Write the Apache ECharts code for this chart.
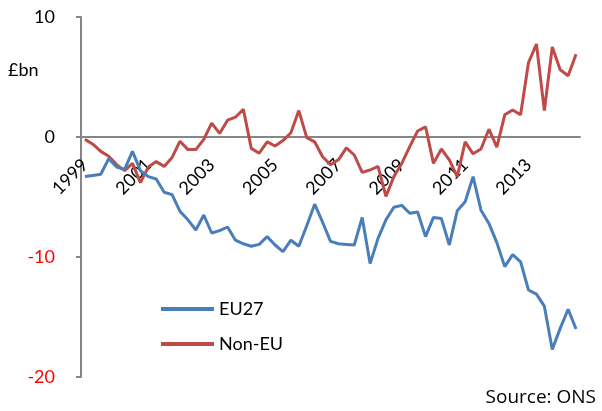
<!DOCTYPE html>
<html>
<head>
<meta charset="utf-8">
<title>EU27 and Non-EU trade balance</title>
<script src="https://cdn.jsdelivr.net/npm/echarts@6/dist/echarts.min.js"></script>
<style>
  html, body { margin: 0; padding: 0; background: #fff; }
  #chart { width: 602px; height: 411px; }
</style>
</head>
<body>
<div id="chart"></div>
<script>
// quarters 1999 Q1 .. 2014 Q3
var quarters = [];
for (var y = 1999; y <= 2014; y++) {
    for (var q = 1; q <= 4; q++) {
        if (y === 2014 && q > 3) break;
        quarters.push(y + ' Q' + q);
    }
}

// £bn
var eu27 = [
    -3.3, -3.2, -3.1, -1.8, -2.5, -2.7, -1.2, -2.8,
    -3.3, -3.5, -4.6, -4.8, -6.2, -6.9, -7.75, -6.5,
    -8.0, -7.8, -7.5, -8.6, -8.9, -9.1, -8.95, -8.3,
    -9.0, -9.55, -8.6, -9.1, -7.4, -5.6, -7.1, -8.7,
    -8.9, -8.95, -9.0, -6.7, -10.55, -8.45, -6.9, -5.85,
    -5.7, -6.35, -6.25, -8.3, -6.7, -6.8, -9.0, -6.15,
    -5.4, -3.3, -6.1, -7.2, -8.8, -10.8, -9.8, -10.4,
    -12.75, -13.1, -14.1, -17.7, -15.95, -14.35, -16.0
];
var nonEu = [
    -0.2, -0.6, -1.2, -1.6, -2.3, -2.8, -2.2, -3.8,
    -2.5, -2.05, -2.45, -1.7, -0.35, -1.05, -1.05, -0.2,
    1.15, 0.3, 1.4, 1.65, 2.3, -0.95, -1.35, -0.4,
    -0.75, -0.3, 0.35, 2.2, -0.05, -0.4, -1.65, -2.3,
    -1.9, -0.9, -1.5, -2.95, -2.75, -2.45, -4.95, -3.3,
    -2.2, -0.8, 0.5, 0.85, -2.2, -1.0, -1.9, -3.3,
    -0.4, -1.4, -1.0, 0.65, -0.85, 1.85, 2.25, 1.85,
    6.2, 7.75, 2.2, 7.5, 5.6, 5.1, 6.9
];

var yMin = -20, yMax = 10;
var axisGrey = '#868686';
var labelFont = 'Lato, "DejaVu Sans", sans-serif';
var gridTop = 17, gridBottom = 34;
var plotH = 411 - gridTop - gridBottom;
// move the category axis up to the zero line
var zeroOffset = -plotH * (0 - yMin) / (yMax - yMin);

var myChart = echarts.init(document.getElementById('chart'));
var option = {
    animation: false,
    backgroundColor: '#fff',
    grid: { left: 81, right: 22, top: gridTop, bottom: gridBottom, containLabel: false, outerBoundsMode: 'none' },
    legend: {
        orient: 'vertical',
        left: 156,
        top: 295,
        icon: 'rect',
        itemWidth: 53,
        itemHeight: 4,
        itemGap: 17,
        textStyle: { fontFamily: labelFont, fontSize: 18, color: '#000', lineHeight: 18 },
        data: ['EU27', 'Non-EU']
    },
    xAxis: {
        type: 'category',
        data: quarters,
        boundaryGap: true,
        position: 'bottom',
        offset: zeroOffset,
        axisLine: { onZero: false, lineStyle: { color: axisGrey, width: 2 } },
        axisTick: { interval: 3, length: 6, lineStyle: { color: axisGrey, width: 2 } },
        axisLabel: {
            interval: 7,
            rotate: 45,
            margin: 25,
            fontFamily: labelFont,
            fontSize: 18,
            color: '#000',
            formatter: function (v) { return v.slice(0, 4); }
        }
    },
    yAxis: {
        type: 'value',
        min: yMin,
        max: yMax,
        interval: 10,
        splitLine: { show: false },
        axisLine: { show: true, lineStyle: { color: axisGrey, width: 2 } },
        axisTick: { show: true, length: 5, lineStyle: { color: axisGrey, width: 2 } },
        axisLabel: {
            margin: 26,
            fontFamily: labelFont,
            fontSize: 18,
            formatter: function (v) { return v < 0 ? '{neg|' + v + '}' : '{pos|' + v + '}'; },
            rich: {
                pos: { color: '#000', fontFamily: labelFont, fontSize: 18 },
                neg: { color: '#FF0000', fontFamily: labelFont, fontSize: 18 }
            }
        }
    },
    series: [
        {
            name: 'EU27',
            type: 'line',
            data: eu27,
            symbol: 'none',
            color: '#4A7EBB',
            lineStyle: { width: 3, color: '#4A7EBB' },
            z: 3
        },
        {
            name: 'Non-EU',
            type: 'line',
            data: nonEu,
            symbol: 'none',
            color: '#BE4B48',
            lineStyle: { width: 3, color: '#BE4B48' },
            z: 2
        }
    ],
    graphic: [
        {
            type: 'text',
            left: 8,
            top: 61,
            style: { text: '£bn', font: '18px ' + labelFont, fill: '#000' }
        },
        {
            type: 'text',
            right: 6,
            top: 388,
            style: { text: 'Source: ONS', font: '19px "Open Sans", sans-serif', fill: '#000' }
        }
    ]
};
myChart.setOption(option);
</script>
</body>
</html>
